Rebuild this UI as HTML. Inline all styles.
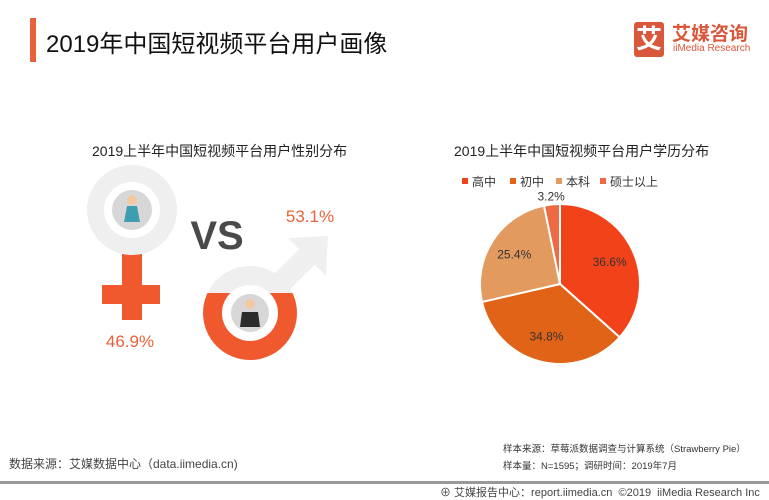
<!DOCTYPE html>
<html><head><meta charset="utf-8"><style>
body{margin:0;width:769px;height:500px;background:#fff;overflow:hidden;font-family:"Liberation Sans","Noto Sans CJK SC",sans-serif;position:relative}
.a{position:absolute;white-space:nowrap}
</style></head><body>
<div class="a" style="left:30px;top:18px;width:6px;height:44px;background:#E8623A"></div>
<div class="a" style="left:46px;top:24px;font-size:24px;color:#111">2019年中国短视频平台用户画像</div>
<div class="a" style="left:634px;top:22px;width:30px;height:35px;background:#D9573A;border-radius:3px;color:#fff;font-size:26px;line-height:35px;text-align:center;font-weight:bold">艾</div>
<div class="a" style="left:672px;top:19px;font-size:19px;color:#D9573A;font-weight:bold">艾媒咨询</div>
<div class="a" style="left:673px;top:43px;font-size:10px;color:#D9573A">iiMedia Research</div>

<div class="a" style="left:92px;top:141px;font-size:14px;color:#222">2019上半年中国短视频平台用户性别分布</div>
<div class="a" style="left:454px;top:141px;font-size:14px;color:#222">2019上半年中国短视频平台用户学历分布</div>

<svg class="a" style="left:0;top:0" width="769" height="500">
  <g>
    <rect x="122" y="245" width="20" height="75" fill="#F0592E"/>
    <rect x="102" y="285" width="58" height="19" fill="#F0592E"/>
    <circle cx="132" cy="210" r="45" fill="#EFEFEF"/>
    <circle cx="132" cy="210" r="28" fill="#fff"/>
    <circle cx="132" cy="210" r="20" fill="#D7D7D7"/>
    <circle cx="132" cy="200" r="5" fill="#F2C8A0"/>
    <path d="M124 222 L127 206 L137 206 L140 222 Z" fill="#3E9DB0"/>
  </g>
  <g>
    <line x1="250" y1="313" x2="312" y2="252" stroke="#EFEFEF" stroke-width="22"/>
    <path d="M328 236 L288 238 L326 276 Z" fill="#EFEFEF"/>
    <clipPath id="top"><rect x="190" y="250" width="130" height="43"/></clipPath>
    <clipPath id="bot"><rect x="190" y="293" width="130" height="80"/></clipPath>
    <circle cx="250" cy="313" r="47" fill="#EFEFEF" clip-path="url(#top)"/>
    <circle cx="250" cy="313" r="47" fill="#F0592E" clip-path="url(#bot)"/>
    <circle cx="250" cy="313" r="28" fill="#fff"/>
    <circle cx="250" cy="313" r="19" fill="#D7D7D7"/>
    <circle cx="250" cy="304" r="5" fill="#F2C8A0"/>
    <path d="M240 327 L242 312 L258 312 L260 327 Z" fill="#2C2C2C"/>
  </g>
  <text x="217" y="249" font-size="40" font-weight="bold" fill="#4A4A4A" text-anchor="middle" font-family="Liberation Sans,sans-serif">VS</text>
  <text x="310" y="222" font-size="17" fill="#E8623A" text-anchor="middle" font-family="Liberation Sans,sans-serif">53.1%</text>
  <text x="130" y="347" font-size="17" fill="#E8623A" text-anchor="middle" font-family="Liberation Sans,sans-serif">46.9%</text>
</svg>

<svg class="a" id="pie" style="left:0;top:0" width="769" height="500"></svg>

<div class="a" style="left:503px;top:441px;font-size:9.5px;color:#333">样本来源：草莓派数据调查与计算系统（Strawberry Pie）</div>
<div class="a" style="left:503px;top:458px;font-size:9.5px;color:#333">样本量：N=1595；调研时间：2019年7月</div>
<div class="a" style="left:9px;top:455px;font-size:12px;color:#444">数据来源：艾媒数据中心（data.iimedia.cn)</div>
<div class="a" style="left:0;top:481px;width:769px;height:3px;background:#999"></div>
<div class="a" style="left:440px;top:484px;font-size:11px;color:#444">⊕ 艾媒报告中心：report.iimedia.cn &nbsp;©2019 &nbsp;iiMedia Research Inc</div>

<script>
const categories=["高中","初中","本科","硕士以上"];
const values=[36.6,34.8,25.4,3.2];
const labels=["36.6%","34.8%","25.4%","3.2%"];
const colors=["#F2421A","#E06318","#E39A5E","#EE6A45"];
const svg=document.getElementById('pie');
const NS="http://www.w3.org/2000/svg";
const cx=560,cy=284,r=80;
const total=values.reduce((a,b)=>a+b,0);
function pt(a,rr){return [cx+rr*Math.sin(a),cy-rr*Math.cos(a)];}
let a0=0;
values.forEach((v,i)=>{
  const a1=a0+v/total*2*Math.PI;
  const p0=pt(a0,r),p1=pt(a1,r);
  const path=document.createElementNS(NS,'path');
  path.setAttribute('d',`M${cx} ${cy} L${p0[0]} ${p0[1]} A${r} ${r} 0 ${a1-a0>Math.PI?1:0} 1 ${p1[0]} ${p1[1]} Z`);
  path.setAttribute('fill',colors[i]);
  path.setAttribute('stroke','#fff');
  path.setAttribute('stroke-width','2');
  
  
  svg.appendChild(path);
  const mid=(a0+a1)/2;
  const lr=v<5?r+8:r*0.68;
  const lp=pt(mid,lr);
  const t=document.createElementNS(NS,'text');
  t.setAttribute('x',lp[0]);t.setAttribute('y',lp[1]+4);
  t.setAttribute('text-anchor','middle');t.setAttribute('font-size','12');
  t.setAttribute('fill','#333');t.setAttribute('font-family','Liberation Sans,sans-serif');
  t.textContent=labels[i];
  
  
  svg.appendChild(t);
  a0=a1;
});
const lx=[462,510,556,600];
categories.forEach((c,i)=>{
  const rc=document.createElementNS(NS,'rect');
  rc.setAttribute('x',lx[i]);rc.setAttribute('y',178);rc.setAttribute('width',6);rc.setAttribute('height',6);
  rc.setAttribute('fill',colors[i]);
  
  
  svg.appendChild(rc);
  const t=document.createElementNS(NS,'text');
  t.setAttribute('x',lx[i]+10);t.setAttribute('y',186);t.setAttribute('font-size','12');t.setAttribute('fill','#333');
  t.textContent=c;
  
  
  svg.appendChild(t);
});
</script>
</body></html>
